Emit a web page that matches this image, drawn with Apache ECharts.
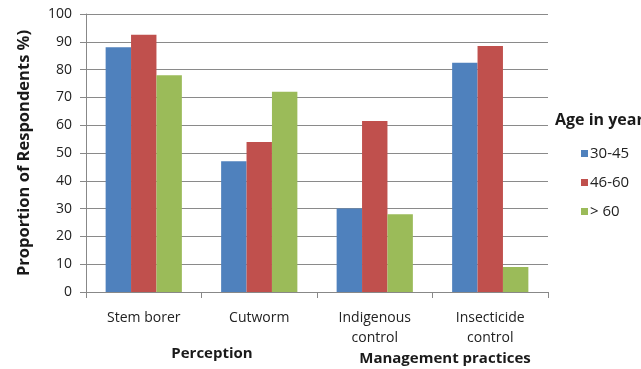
<!DOCTYPE html>
<html>
<head>
<meta charset="utf-8">
<script src="https://cdn.jsdelivr.net/npm/echarts@6/dist/echarts.min.js"></script>
<style>
  html, body { margin: 0; padding: 0; background: #fff; }
  #chart { width: 641px; height: 369px; }
</style>
</head>
<body>
<div id="chart"></div>
<script>
const categories = ['Stem borer', 'Cutworm', 'Indigenous\ncontrol', 'Insecticide\ncontrol']
const age30to45 = [88, 47, 30, 82.5]
const age46to60 = [92.5, 54, 61.5, 88.5]
const ageOver60 = [78, 72, 28, 9]
const seriesNames = ['30-45', '46-60', '> 60']

const font = '"Open Sans", "Liberation Sans", sans-serif'
const chart = echarts.init(document.getElementById('chart'))

chart.setOption({
  animation: false,
  textStyle: { fontFamily: font },
  title: [
    { text: 'Perception', left: 207, top: 341, textAlign: 'center',
      textStyle: { fontSize: 15, fontWeight: 'bold', color: '#1a1a1a', fontFamily: font } },
    { text: 'Management practices', left: 440, top: 346, textAlign: 'center',
      textStyle: { fontSize: 15, fontWeight: 'bold', color: '#1a1a1a', fontFamily: font } },
    { text: 'Age in years', left: 550, top: 107,
      textStyle: { fontSize: 16, fontWeight: 'bold', color: '#1a1a1a', fontFamily: font } }
  ],
  legend: {
    orient: 'vertical',
    left: 576,
    top: 141,
    itemWidth: 7,
    itemHeight: 7,
    itemGap: 14,
    icon: 'rect',
    data: seriesNames,
    textStyle: { fontSize: 15, color: '#222', padding: [0, 0, 0, -3], fontFamily: font }
  },
  grid: { left: 86, right: 93, top: 14, bottom: 77 },
  xAxis: {
    type: 'category',
    data: categories,
    axisLine: { lineStyle: { color: '#888' } },
    axisTick: { show: true, length: 6, lineStyle: { color: '#888' } },
    axisLabel: { color: '#222', fontSize: 14, margin: 16, lineHeight: 20 }
  },
  yAxis: {
    type: 'value',
    min: 0,
    max: 100,
    interval: 10,
    name: 'Proportion of Respondents %)',
    nameLocation: 'middle',
    nameGap: 53,
    nameTextStyle: { fontSize: 16.5, fontWeight: 'bold', color: '#1a1a1a' },
    axisLine: { show: true, lineStyle: { color: '#888' } },
    axisTick: { show: true, length: 6, lineStyle: { color: '#888' } },
    axisLabel: { color: '#222', fontSize: 14, margin: 14 },
    splitLine: { lineStyle: { color: '#8a8a8a' } }
  },
  series: [
    { name: seriesNames[0], type: 'bar', data: age30to45, barGap: '0%', barCategoryGap: '34%',
      itemStyle: { color: '#4F81BD' } },
    { name: seriesNames[1], type: 'bar', data: age46to60,
      itemStyle: { color: '#C0504D' } },
    { name: seriesNames[2], type: 'bar', data: ageOver60,
      itemStyle: { color: '#9BBB59' } }
  ]
})
</script>
</body>
</html>
